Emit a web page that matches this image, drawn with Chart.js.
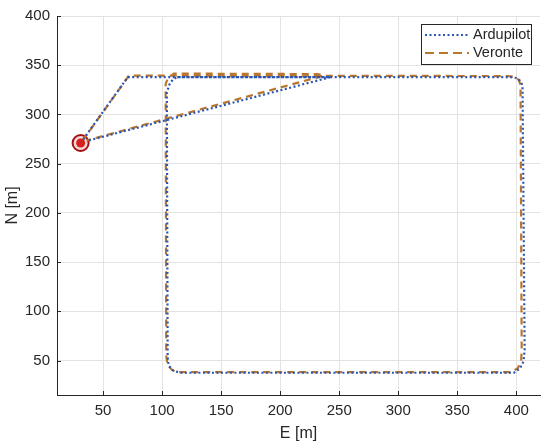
<!DOCTYPE html>
<html>
<head>
<meta charset="utf-8">
<script src="https://cdn.jsdelivr.net/npm/chart.js@4/dist/chart.umd.min.js"></script>
<style>
  body { margin: 0; background: #fff; }
  canvas { display: block; }
</style>
</head>
<body>
<canvas id="track" width="550" height="448"></canvas>
<script>
// flight paths, E / N in metres
const ardupilotE = [31, 71, 395, 400, 403.5, 405.2, 407, 406, 403, 398, 115, 109, 105.5, 104.7, 104, 106, 109, 113, 243, 36];
const ardupilotN = [271, 338, 338, 337, 334, 329, 60, 49, 42, 37.6, 37.6, 40, 45, 54, 322, 330, 335.5, 338, 338, 273];

const veronteE = [33, 72, 393, 399, 402, 403.5, 404.5, 404, 401, 395, 112, 108, 104.5, 103.5, 103, 105, 110, 232, 237, 36];
const veronteN = [274, 339.5, 339, 338, 335, 330, 60, 49, 42, 38.2, 38.2, 41, 46, 55, 331, 337, 341.5, 341, 339.5, 273.5];

const homeE = [31];
const homeN = [271];

const seriesNames = ['Ardupilot', 'Veronte'];
const xTicks = [50, 100, 150, 200, 250, 300, 350, 400];
const yTicks = [50, 100, 150, 200, 250, 300, 350, 400];

const toPoints = (xs, ys) => xs.map((x, i) => ({ x: x, y: ys[i] }));

const blue = '#2a55b5';
const brown = '#b9762c';
const axisColor = '#262626';

const font = { family: "'Liberation Sans', Arial, sans-serif", size: 15 };

// MATLAB style ticks pointing into the plot
const innerTicks = {
  id: 'innerTicks',
  afterDatasetsDraw(chart) {
    const ctx = chart.ctx;
    const a = chart.chartArea;
    const xs = chart.scales.x, ys = chart.scales.y;
    ctx.save();
    ctx.strokeStyle = axisColor;
    ctx.lineWidth = 1;
    ctx.beginPath();
    xTicks.forEach(v => {
      const p = Math.round(xs.getPixelForValue(v)) + 0.5;
      ctx.moveTo(p, a.bottom);
      ctx.lineTo(p, a.bottom - 4);
    });
    yTicks.forEach(v => {
      const p = Math.round(ys.getPixelForValue(v)) + 0.5;
      ctx.moveTo(a.left, p);
      ctx.lineTo(a.left + 4, p);
    });
    ctx.stroke();
    ctx.restore();
  }
};

// legend box inside the top right corner
const boxLegend = {
  id: 'boxLegend',
  afterDraw(chart) {
    const ctx = chart.ctx;
    const x0 = 421, y0 = 24, w = 110, h = 40;
    ctx.save();
    ctx.fillStyle = '#fff';
    ctx.fillRect(x0, y0, w, h);
    ctx.strokeStyle = axisColor;
    ctx.lineWidth = 1;
    ctx.strokeRect(x0 + 0.5, y0 + 0.5, w, h);
    const styles = [
      { color: blue, dash: [2, 2.5], y: 35 },
      { color: brown, dash: [9, 5], y: 53 }
    ];
    styles.forEach((s, i) => {
      ctx.strokeStyle = s.color;
      ctx.lineWidth = 2;
      ctx.setLineDash(s.dash);
      ctx.beginPath();
      ctx.moveTo(425, s.y);
      ctx.lineTo(469, s.y);
      ctx.stroke();
      ctx.setLineDash([]);
      ctx.fillStyle = axisColor;
      ctx.font = "14.5px 'Liberation Sans', Arial, sans-serif";
      ctx.textBaseline = 'middle';
      ctx.fillText(seriesNames[i], 473, s.y);
    });
    ctx.restore();
  }
};

const config = {
  type: 'scatter',
  data: {
    datasets: [
      {
        label: seriesNames[0],
        data: toPoints(ardupilotE, ardupilotN),
        showLine: true,
        borderColor: blue,
        borderWidth: 2.2,
        borderDash: [2, 2.5],
        pointRadius: 0,
        tension: 0
      },
      {
        label: seriesNames[1],
        data: toPoints(veronteE, veronteN),
        showLine: true,
        borderColor: brown,
        borderWidth: 2.2,
        borderDash: [7, 5],
        pointRadius: 0,
        tension: 0
      },
      {
        label: 'home',
        data: toPoints(homeE, homeN),
        pointRadius: 4.5,
        pointBackgroundColor: '#d8201e',
        pointBorderWidth: 0,
        order: -1
      },
      {
        label: 'home ring',
        data: toPoints(homeE, homeN),
        pointRadius: 8,
        pointBackgroundColor: '#f7d6d6',
        pointBorderColor: '#a31212',
        pointBorderWidth: 2,
        order: 0
      }
    ]
  },
  options: {
    responsive: false,
    animation: false,
    layout: { padding: { top: 13, right: 7, left: 0, bottom: 0 } },
    plugins: {
      legend: { display: false },
      tooltip: { enabled: false }
    },
    scales: {
      x: {
        type: 'linear',
        min: 11,
        max: 420,
        afterBuildTicks: s => { s.ticks = xTicks.map(v => ({ value: v })); },
        afterFit: s => { s.height = 53; },
        grid: { color: '#e3e3e3', drawTicks: false },
        border: { display: true, color: axisColor, width: 1 },
        ticks: { color: axisColor, font: font, padding: 7, maxRotation: 0 },
        title: { display: true, text: 'E [m]', color: axisColor, font: { family: font.family, size: 16 }, padding: { top: 4, bottom: 5 } }
      },
      y: {
        type: 'linear',
        min: 15,
        max: 400,
        afterBuildTicks: s => { s.ticks = yTicks.map(v => ({ value: v })); },
        afterFit: s => { s.width = 57; },
        grid: { color: '#e3e3e3', drawTicks: false },
        border: { display: true, color: axisColor, width: 1 },
        ticks: { color: axisColor, font: font, padding: 7 },
        title: { display: true, text: 'N [m]', color: axisColor, font: { family: font.family, size: 16 }, padding: { top: 3, bottom: 3 } }
      }
    }
  },
  plugins: [innerTicks, boxLegend]
};

const trackChart = new Chart(document.getElementById('track'), config);
</script>
</body>
</html>
